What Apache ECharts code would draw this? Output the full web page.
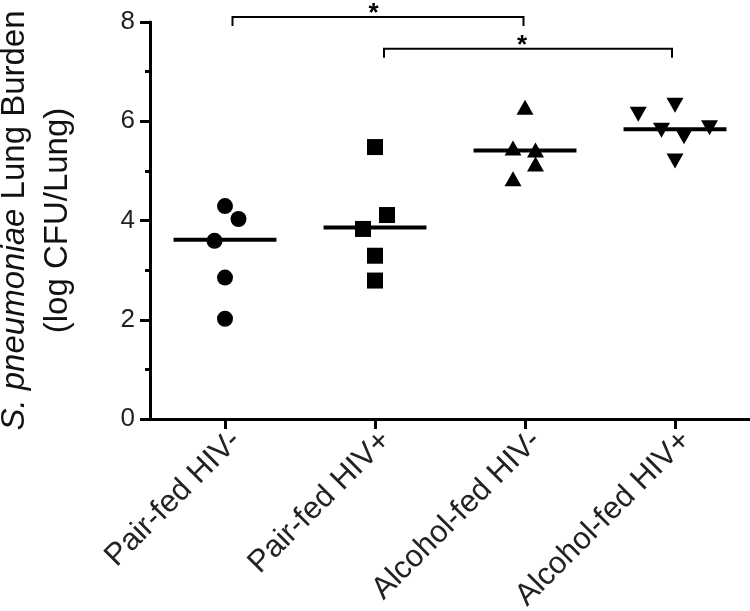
<!DOCTYPE html>
<html>
<head>
<meta charset="utf-8">
<script src="https://cdn.jsdelivr.net/npm/echarts@6/dist/echarts.min.js"></script>
<style>html,body{margin:0;padding:0;background:#fff;}#c{width:750px;height:611px;}</style>
</head>
<body>
<div id="c"></div>
<script>
// ---- data ----
const categories = ['Pair-fed HIV-', 'Pair-fed HIV+', 'Alcohol-fed HIV-', 'Alcohol-fed HIV+'];
const yTicks = [0, 2, 4, 6, 8];

const pairNegValues = [4.29, 4.03, 3.59, 2.85, 2.02];
const pairNegOffsets = [0.00, 0.09, -0.07, 0.00, 0.00];

const pairPosValues = [5.48, 4.11, 3.83, 3.29, 2.79];
const pairPosOffsets = [0.00, 0.08, -0.08, 0.00, 0.00];

const alcNegValues = [6.28, 5.46, 5.42, 5.14, 4.84];
const alcNegOffsets = [0.00, -0.08, 0.07, 0.07, -0.08];

const alcPosValues = [6.14, 6.32, 5.82, 5.87, 5.69, 5.20];
const alcPosOffsets = [-0.245, 0.00, -0.09, 0.23, 0.06, 0.00];

const medians = [3.61, 3.86, 5.41, 5.84];

// significance brackets: [startCategory, endCategory, y, starCategory]
const bracketStarts = [0.05, 1.06];
const bracketEnds = [1.99, 2.98];
const bracketYs = [8.10, 7.46];
const starXs = [0.99, 1.98];
const starLabels = ['*', '*'];

// ---- build ----
function pts(idx, vals, offs) {
  return vals.map((v, j) => [idx + offs[j], v]);
}
const FONT = 'Liberation Sans, Arial, sans-serif';
const chart = echarts.init(document.getElementById('c'), null, {renderer: 'canvas'});

const medianData = medians.map((m, i) => [i, m]);
const bracketData = bracketStarts.map((s, i) => [s, bracketEnds[i], bracketYs[i], starXs[i]]);
const markerStyle = {color: '#000', opacity: 1};

const option = {
  animation: false,
  backgroundColor: '#fff',
  grid: {left: 150, right: 0, top: 22, bottom: 192, containLabel: false, outerBoundsMode: 'none'},
  xAxis: [
    {
      type: 'category',
      data: categories,
      boundaryGap: true,
      axisLine: {show: true, onZero: false, lineStyle: {color: '#000', width: 3}},
      axisTick: {show: true, alignWithLabel: true, length: 10, lineStyle: {color: '#000', width: 3}},
      axisLabel: {rotate: 45, fontSize: 31, fontFamily: FONT, color: '#222', margin: 6, interval: 0, verticalAlign: 'top'},
      splitLine: {show: false}
    },
    {
      type: 'value', min: -0.5, max: 3.5, show: false
    }
  ],
  yAxis: {
    type: 'value',
    min: yTicks[0], max: yTicks[yTicks.length - 1], interval: 2,
    axisLine: {show: true, onZero: false, lineStyle: {color: '#000', width: 3}},
    axisTick: {show: true, length: 10, lineStyle: {color: '#000', width: 3}},
    minorTick: {show: true, splitNumber: 2, length: 5, lineStyle: {color: '#000', width: 3}},
    splitLine: {show: false},
    minorSplitLine: {show: false},
    axisLabel: {fontSize: 26, fontFamily: FONT, color: '#222', margin: 15},
    name: '{i|S. pneumoniae} {n|Lung Burden}\n{n|(log CFU/Lung)}',
    nameLocation: 'middle',
    nameRotate: 90,
    nameGap: 71,
    nameTextStyle: {
      fontFamily: FONT, fontSize: 33, color: '#111', lineHeight: 43, align: 'center',
      rich: {
        i: {fontStyle: 'italic', fontFamily: FONT, fontSize: 33, color: '#111', lineHeight: 43},
        n: {fontFamily: FONT, fontSize: 33, color: '#111', lineHeight: 43}
      }
    }
  },
  series: [
    {type: 'scatter', xAxisIndex: 1, symbol: 'circle', symbolSize: 16, itemStyle: markerStyle, data: pts(0, pairNegValues, pairNegOffsets)},
    {type: 'scatter', xAxisIndex: 1, symbol: 'rect', symbolSize: 16, itemStyle: markerStyle, data: pts(1, pairPosValues, pairPosOffsets)},
    {type: 'scatter', xAxisIndex: 1, symbol: 'triangle', symbolSize: [17, 15], itemStyle: markerStyle, data: pts(2, alcNegValues, alcNegOffsets)},
    {type: 'scatter', xAxisIndex: 1, symbol: 'triangle', symbolRotate: 180, symbolSize: [17, 15], itemStyle: markerStyle, data: pts(3, alcPosValues, alcPosOffsets)},
    {
      type: 'custom', xAxisIndex: 1, clip: false, silent: true,
      data: medianData,
      renderItem: function (params, api) {
        const x = api.value(0), y = api.value(1);
        const p1 = api.coord([x - 0.343, y]);
        const p2 = api.coord([x + 0.343, y]);
        return {type: 'line', shape: {x1: p1[0], y1: p1[1], x2: p2[0], y2: p2[1]}, style: {stroke: '#000', lineWidth: 4}};
      },
      z: 3
    },
    {
      type: 'custom', xAxisIndex: 1, clip: false, silent: true,
      data: bracketData,
      renderItem: function (params, api) {
        const a = api.coord([api.value(0), api.value(2)]);
        const b = api.coord([api.value(1), api.value(2)]);
        const s = api.coord([api.value(3), api.value(2)]);
        const hook = 9;
        return {
          type: 'group',
          children: [
            {type: 'polyline', shape: {points: [[a[0], a[1] + hook], [a[0], a[1]], [b[0], b[1]], [b[0], b[1] + hook]]},
             style: {stroke: '#000', lineWidth: 2, fill: null}},
            {type: 'text', style: {text: starLabels[params.dataIndex], x: s[0], y: s[1] - 3, align: 'center', verticalAlign: 'middle',
              fontSize: 26, fontWeight: 'bold', fontFamily: FONT, fill: '#000'}}
          ]
        };
      }
    }
  ]
};
chart.setOption(option);
</script>
</body>
</html>
